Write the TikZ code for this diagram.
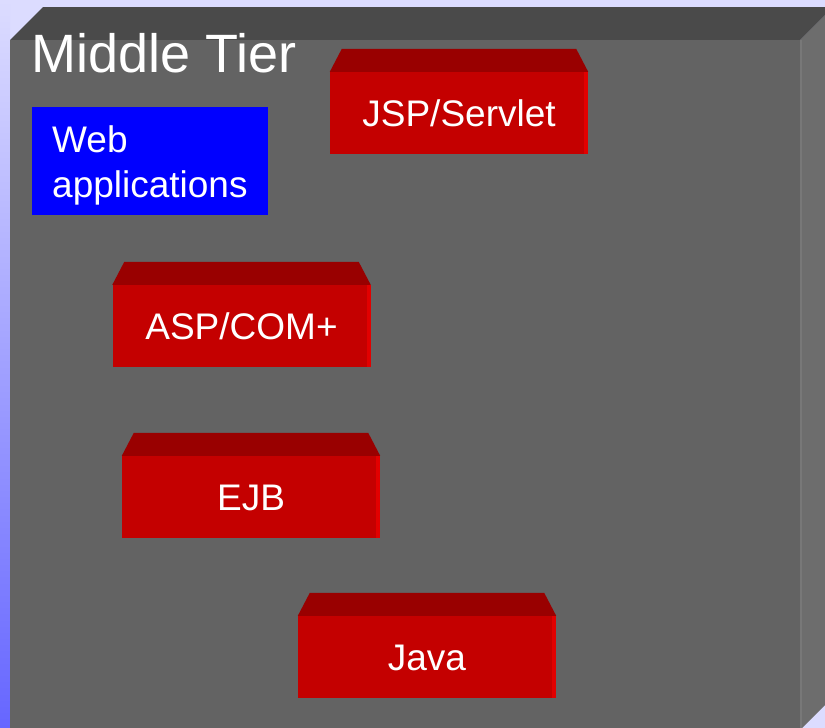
\documentclass[tikz,border=0pt]{standalone}
\usepackage{fontspec}
\setmainfont{Liberation Sans}
\definecolor{bglav}{HTML}{DCDCFF}
\definecolor{bgblue}{HTML}{6666FF}
\definecolor{tierfront}{HTML}{636363}
\definecolor{tiertop}{HTML}{4A4A4A}
\definecolor{tierside}{HTML}{6D6D6D}
\definecolor{tieredge}{HTML}{787878}
\definecolor{redfront}{HTML}{C40000}
\definecolor{redtop}{HTML}{990000}
\definecolor{rededge}{HTML}{E20000}
\tikzset{
  redbox/.style={fill=redfront, draw=none, minimum width=258pt, minimum height=82pt,
    inner sep=0pt, text=white, font=\fontsize{37}{44}\selectfont,
    text height=26.5pt, text depth=0pt},
  bluebox/.style={fill=blue, draw=none, minimum width=236pt, minimum height=108pt, inner sep=0pt},
  whitetxt/.style={text=white, inner sep=0pt, font=\fontsize{37}{45}\selectfont},
}
\newcommand{\boxtop}[1]{%
  \fill[redtop] (#1.north west) -- ++(12,-23) -- ($(#1.north east)+(-12,-23)$) -- (#1.north east) -- cycle;
  \fill[rededge] ($(#1.north east)+(-4,0)$) rectangle (#1.south east);
}
\usetikzlibrary{calc}
\begin{document}
\begin{tikzpicture}[x=1pt,y=-1pt]
\useasboundingbox (0,0) rectangle (825,728);
% background
\fill[bglav] (0,0) rectangle (825,728);
\shade[top color=bglav, bottom color=bgblue] (0,0) rectangle (10,728);
% tier box
\fill[tierside] (800,40) -- (833,7) -- (833,697) -- (800,730) -- cycle;
\fill[tiertop] (10,40) -- (43,7) -- (833,7) -- (800,40) -- cycle;
\fill[tierfront] (10,40) rectangle (800,730);
\draw[line width=1.5pt, color=tieredge] (801,40) -- (801,730);
\node[whitetxt, font=\fontsize{54}{60}\selectfont, anchor=base west] (title) at (31,72) {Middle Tier};
% web applications
\node[bluebox] (web) at (150,161) {};
\node[whitetxt, align=left, anchor=base west] (webtxt) at (52,197) {Web\\applications};
% red boxes
\node[redbox] (jsp) at (459,113) {JSP/Servlet};
\boxtop{jsp}
\node[redbox] (asp) at (241.5,326) {ASP/COM+};
\boxtop{asp}
\node[redbox] (ejb) at (251,497) {EJB};
\boxtop{ejb}
\node[redbox] (java) at (427,657) {Java};
\boxtop{java}
\end{tikzpicture}
\end{document}
